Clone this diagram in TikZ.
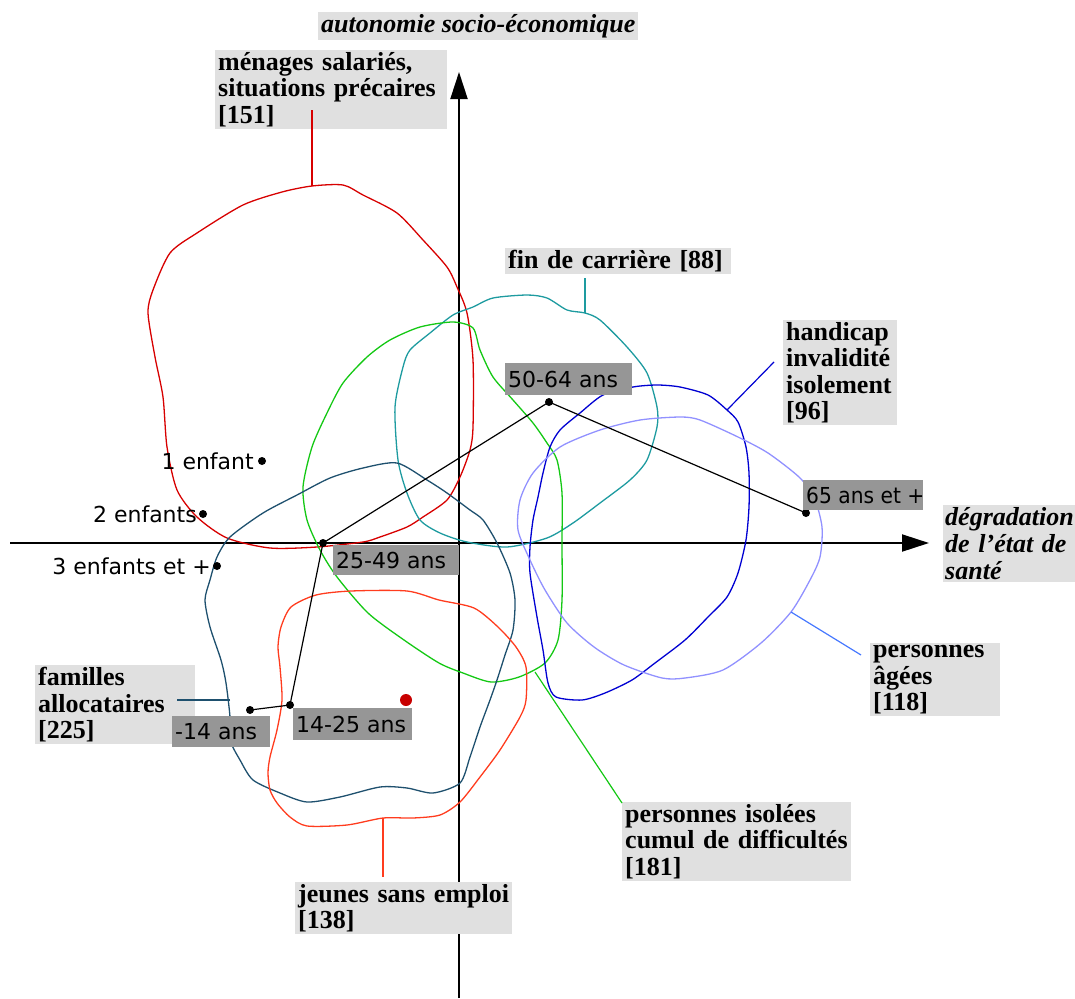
\documentclass[tikz,border=0pt]{standalone}
\usepackage{fontspec}
\setmainfont{Liberation Serif}
\newfontfamily\labsans{DejaVu Sans}
\usetikzlibrary{arrows.meta}
\definecolor{cRed}{RGB}{215,0,0}
\definecolor{cGreen}{RGB}{20,200,20}
\definecolor{cTeal}{RGB}{30,155,160}
\definecolor{cDTeal}{RGB}{30,80,110}
\definecolor{cOrange}{RGB}{255,60,30}
\definecolor{cBlue}{RGB}{0,0,210}
\definecolor{cLBlue}{RGB}{145,145,255}
\definecolor{cLBlueLead}{RGB}{70,120,255}
\definecolor{boxlight}{RGB}{224,224,224}
\definecolor{boxdark}{RGB}{150,150,150}
\definecolor{dotred}{RGB}{200,0,0}
\newcommand{\glabw}[2]{\makebox[#1][l]{#2}}
\begin{document}
\begin{tikzpicture}[x=1pt,y=-1pt,
  curve/.style={line width=1.3pt},
  axis/.style={line width=2pt,-{Triangle[length=27pt,width=17pt]}},
  cbox/.style={fill=boxlight,anchor=north west,inner xsep=3pt,inner ysep=2pt,align=left,
     font=\fontsize{26}{26.5}\selectfont\bfseries},
  tbox/.style={fill=boxlight,anchor=north west,inner xsep=3pt,inner ysep=2pt,align=left,
     font=\fontsize{26}{27}\selectfont\bfseries\itshape},
  gbox/.style={fill=boxdark,anchor=north west,inner xsep=3pt,inner ysep=0pt,
     font=\labsans\fontsize{22}{24}\selectfont},
  txt/.style={inner sep=0pt,font=\labsans\fontsize{22}{24}\selectfont},
  bdot/.style={circle,fill=black,inner sep=0pt,minimum size=8pt},
  lead/.style={line width=1.2pt}]
\useasboundingbox (0,0) rectangle (1075,998);

% axes
\coordinate (vb) at (459,998);
\coordinate (vt) at (459,72);
\coordinate (hl) at (10,543);
\coordinate (hr) at (929,543);
\draw[axis] (vb) -- (vt);
\draw[axis] (hl) -- (hr);

% menages salaries (red)
\draw[curve,cRed] plot[smooth cycle,tension=0.45] coordinates {
(312,186)(343,185)(363,195)(397,213)(423,240)(447,267)(457,287)(467,313)(473,360)
(473,427)(470,450)(460,477)(447,500)(423,517)(407,527)(380,537)(363,542)(317,547)
(270,548)(227,538)(197,517)(177,490)(167,447)(163,397)(155,357)(148,313)(153,290)
(170,253)(197,233)(243,205)(282,192)};

% fin de carriere (teal)
\draw[curve,cTeal] plot[smooth cycle,tension=0.45] coordinates {
(453,315)(473,307)(493,298)(527,295)(547,298)(567,310)(585,313)(600,320)(627,347)
(647,373)(657,407)(657,427)(647,460)(630,480)(600,503)(573,523)(547,538)(507,547)
(467,542)(440,533)(420,520)(407,493)(398,460)(395,407)(403,367)(410,350)(430,333)};

% personnes isolees (green)
\draw[curve,cGreen] plot[smooth cycle,tension=0.45] coordinates {
(453,322)(473,328)(480,350)(493,377)(513,400)(533,423)(547,443)(557,460)(562,493)
(562,543)(562,600)(558,640)(545,663)(519,677)(491,682)(463,673)(439,663)(404,640)
(368,613)(337,577)(320,550)(307,520)(303,487)(312,447)(327,413)(343,383)(367,357)
(390,340)(420,327)};

% familles allocataires (dark teal)
\draw[curve,cDTeal] plot[smooth cycle,tension=0.45] coordinates {
(397,463)(427,480)(447,493)(470,510)(483,520)(497,543)(510,573)(515,600)(513,630)
(505,655)(497,680)(490,700)(480,727)(470,757)(460,783)(433,793)(407,788)(380,787)
(340,797)(307,802)(280,793)(253,780)(240,760)(230,740)(230,717)(226,683)(221,660)
(210,627)(205,600)(210,580)(217,557)(230,537)(263,513)(297,495)(330,478)(363,468)};

% jeunes sans emploi (orange)
\draw[curve,cOrange] plot[smooth cycle,tension=0.45] coordinates {
(291,607)(316,595)(351,591)(407,591)(439,600)(474,608)(498,627)(516,647)(526,667)
(526,700)(520,717)(500,750)(480,777)(460,802)(440,815)(413,818)(383,818)(347,825)
(307,826)(290,817)(277,803)(270,790)(268,773)(270,757)(277,730)(282,700)(280,667)
(278,647)(281,627)};

% handicap (blue)
\draw[curve,cBlue] plot[smooth cycle,tension=0.45] coordinates {
(603,395)(633,387)(657,385)(680,387)(708,395)(727,410)(738,422)(746,447)(749,473)
(749,507)(746,540)(738,573)(727,597)(708,617)(685,640)(655,663)(632,680)(605,693)
(582,700)(556,697)(548,683)(543,650)(537,617)(530,573)(530,547)(533,520)(538,497)
(543,473)(550,447)(560,430)(580,413)};

% personnes agees (light blue)
\draw[curve,cLBlue] plot[smooth cycle,tension=0.45] coordinates {
(520,500)(533,473)(560,447)(600,430)(640,420)(680,417)(700,420)(738,437)(768,453)
(799,477)(814,497)(822,527)(820,557)(810,580)(791,612)(761,643)(723,670)(685,678)
(662,678)(624,665)(594,647)(567,623)(545,590)(530,560)(518,530)};

% age dots and polyline
\node[bdot] (d14) at (250,710) {};
\node[bdot] (d1425) at (290,705) {};
\node[bdot] (d2549) at (323,543) {};
\node[bdot] (d5064) at (549,402) {};
\node[bdot] (d65) at (806,513) {};
\draw[line width=1.2pt] (d14.center) -- (d1425.center) -- (d2549.center) -- (d5064.center) -- (d65.center);

% children dots
\node[bdot] (e1) at (262,461) {};
\node[bdot] (e2) at (203,514) {};
\node[bdot] (e3) at (217,566) {};
\node[txt,anchor=east] (te1) at ([xshift=-8pt]e1.center) {1 enfant};
\node[txt,anchor=east] (te2) at ([xshift=-6pt]e2.center) {2 enfants};
\node[txt,anchor=east] (te3) at ([xshift=-6pt]e3.center) {3 enfants et +};

\node[circle,fill=dotred,inner sep=0pt,minimum size=12pt] (rdot) at (406,700) {};

% category labels
\node[tbox] (ttl) at (318,12) {autonomie socio-économique};
\node[tbox,text width=128pt,inner xsep=2pt] (tdg) at (943,505) {dégradation\\de l’état de\\santé};
\node[cbox,text width=226pt] (lmen) at (215,50) {ménages salariés,\\situations précaires\\{[}151{]}};
\node[cbox,text width=220pt] (lfin) at (505,248) {fin de carrière {[}88{]}};
\node[cbox,text width=108pt] (lhan) at (783,320) {handicap\\invalidité\\isolement\\{[}96{]}};
\node[cbox,text width=124pt] (lage) at (870,643) {personnes\\âgées\\{[}118{]}};
\node[cbox,text width=223pt] (liso) at (622,802) {personnes isolées\\cumul de difficultés\\{[}181{]}};
\node[cbox,text width=211pt] (ljeu) at (295,882) {jeunes sans emploi\\{[}138{]}};
\node[cbox,text width=154pt] (lfam) at (35,665) {familles\\allocataires\\{[}225{]}};

% leaders
\coordinate (r1) at (312,186); \coordinate (r2) at (312,110);
\draw[lead,cRed] (r1) -- (r2);
\coordinate (t1) at (585,313); \coordinate (t2) at (585,278);
\draw[lead,cTeal] (t1) -- (t2);
\coordinate (b1) at (727,410); \coordinate (b2) at (774,362);
\draw[lead,cBlue] (b1) -- (b2);
\coordinate (lb1) at (791,612); \coordinate (lb2) at (861,655);
\draw[lead,cLBlueLead] (lb1) -- (lb2);
\coordinate (g1) at (535,672); \coordinate (g2) at (622,803);
\draw[lead,cGreen] (g1) -- (g2);
\coordinate (o1) at (383,818); \coordinate (o2) at (383,877);
\draw[lead,cOrange] (o1) -- (o2);
\coordinate (f1) at (230,700); \coordinate (f2) at (177,700);
\draw[lead,cDTeal] (f1) -- (f2);

% age labels
\node[gbox,minimum height=32pt] (a5064) at (505,363) {\glabw{121pt}{50-64 ans}};
\node[gbox,minimum height=30pt] (a65) at (803,480) {\glabw{114pt}{\scalebox{0.92}[1]{65 ans et +}}};
\node[gbox,minimum height=30pt] (a2549) at (333,545) {\glabw{120pt}{25-49 ans}};
\node[gbox,minimum height=32pt] (a1425) at (293,708) {\glabw{113pt}{14-25 ans}};
\node[gbox,minimum height=31pt] (a14) at (172,716) {\glabw{92pt}{-14 ans}};
\end{tikzpicture}
\end{document}
